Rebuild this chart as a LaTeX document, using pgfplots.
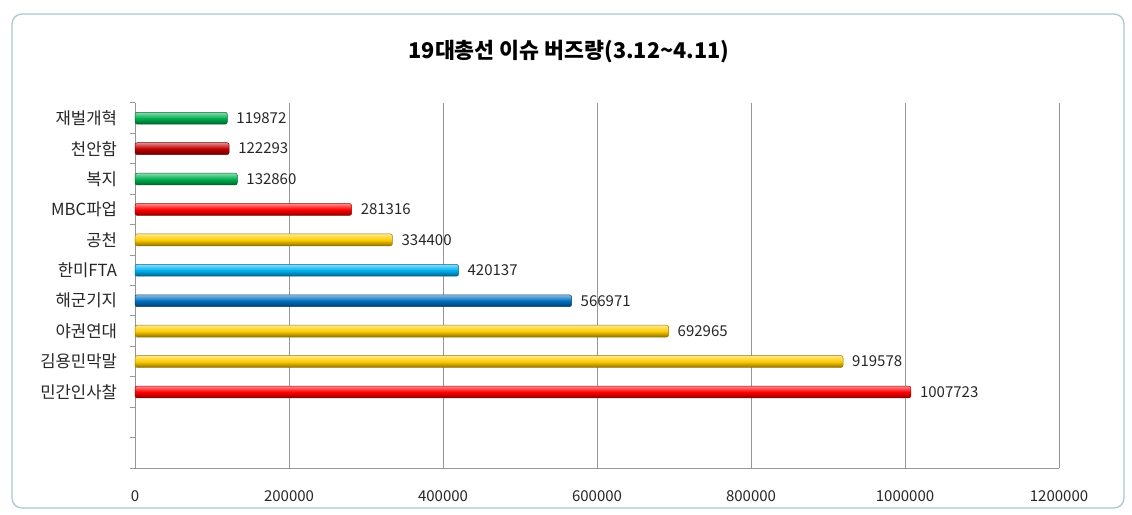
\documentclass[border=0pt]{standalone}
\usepackage{pgfplots}
\pgfplotsset{compat=1.18}
\usepackage{fontspec}
\setmainfont{Noto Sans CJK KR}
\definecolor{cgreen}{RGB}{0,176,80}
\definecolor{cdred}{RGB}{192,0,0}
\definecolor{cred}{RGB}{255,0,0}
\definecolor{cgold}{RGB}{255,204,0}
\definecolor{clblue}{RGB}{0,176,240}
\definecolor{cblue}{RGB}{0,112,192}
\definecolor{gridc}{RGB}{150,150,150}
\definecolor{framec}{RGB}{170,200,210}
\tikzset{
  cyl/.style={top color=#1!45!white, bottom color=#1!55!black, middle color=#1, draw=#1!60!black, line width=0.3pt, rounded corners=1.3pt}
}
\begin{document}
\begin{tikzpicture}
\path[use as bounding box] (0,0) rectangle (679.2pt,308.4pt);
\draw[framec, line width=0.8pt, rounded corners=6pt] (7.2pt,3.6pt) rectangle (674.4pt,300pt);
\node[font=\bfseries\fontsize{13}{15}\selectfont] at (341.4pt,277.5pt) {19대총선 이슈 버즈량(3.12\textasciitilde4.11)};
\begin{axis}[
  at={(81pt,27.6pt)}, anchor=south west,
  scale only axis, width=554.4pt, height=219pt,
  xmin=0, xmax=1200000, ymin=-0.5, ymax=11.5,
  axis x line*=bottom, axis y line*=left,
  axis line style={gridc, line width=0.6pt},
  xtick={0,200000,400000,600000,800000,1000000,1200000},
  xticklabels={0,200000,400000,600000,800000,1000000,1200000},
  xmajorgrids, major grid style={gridc, line width=0.6pt},
  x tick style={draw=none},
  ytick={2,3,4,5,6,7,8,9,10,11},
  yticklabels={민간인사찰,김용민막말,야권연대,해군기지,한미FTA,공천,MBC파업,복지,천안함,재벌개혁},
  y tick style={draw=none},
  minor ytick={-0.5,0.5,...,11.5},
  minor y tick style={draw=gridc, line width=0.6pt},
  minor tick length=3pt, tick align=outside,
  ticklabel style={font=\fontsize{9}{10}\selectfont, text=black!85},
  yticklabel style={xshift=-3pt, font=\fontsize{10}{11}\selectfont},
  xticklabel style={yshift=-6pt},
  scaled x ticks=false,
  xbar, bar width=0.39, bar shift=0pt,
  point meta=explicit symbolic,
  nodes near coords,
  nodes near coords style={font=\fontsize{9}{10}\selectfont, text=black!85, anchor=west, xshift=2pt},
  clip=false,
]
\addplot[cyl=cgreen] coordinates {(119872,11) [119872]};
\addplot[cyl=cdred] coordinates {(122293,10) [122293]};
\addplot[cyl=cgreen] coordinates {(132860,9) [132860]};
\addplot[cyl=cred] coordinates {(281316,8) [281316]};
\addplot[cyl=cgold] coordinates {(334400,7) [334400]};
\addplot[cyl=clblue] coordinates {(420137,6) [420137]};
\addplot[cyl=cblue] coordinates {(566971,5) [566971]};
\addplot[cyl=cgold] coordinates {(692965,4) [692965]};
\addplot[cyl=cgold] coordinates {(919578,3) [919578]};
\addplot[cyl=cred] coordinates {(1007723,2) [1007723]};
\end{axis}
\end{tikzpicture}
\end{document}
